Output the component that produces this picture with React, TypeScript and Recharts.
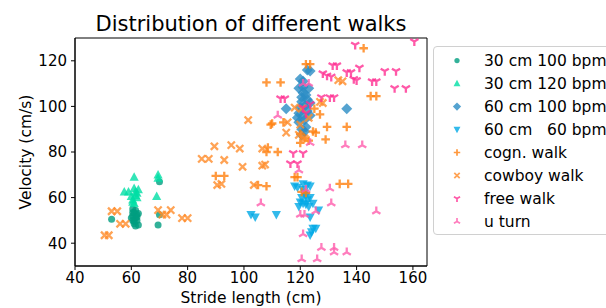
import { ScatterChart, Scatter, XAxis, YAxis, ReferenceArea, Label } from 'recharts';

const FONT = '"DejaVu Sans", sans-serif';

// stride length (cm), velocity (cm/s)
const cm30bpm100 = [
  [53, 50.5], [60.5, 55], [61, 53.5], [60.5, 52], [61.5, 51], [62, 50], [61, 49.5], [62.5, 48],
  [61.5, 47.5], [62, 52.5], [60, 51], [62.5, 53], [61.5, 54.5], [60.5, 50], [61, 48.5], [62, 51.5],
  [60.5, 53.5], [70, 67], [69.5, 48], [70, 52.5],
];
const cm30bpm120 = [
  [61, 69], [57.5, 62.5], [59, 62.5], [61, 64], [61.5, 61], [60.5, 59], [62, 62], [61, 57.5],
  [62.5, 63.5], [60, 60.5], [61.5, 62.5], [60.5, 58], [62, 60], [69.5, 70], [69.5, 68.5], [69, 60.5],
];
const cm60bpm100 = [
  [122.5, 116], [123.5, 115.5], [120, 112], [121, 111], [119.5, 108], [121, 108.5], [123, 108],
  [120.5, 104], [122.5, 103], [120.5, 102], [123.5, 101.5], [121.5, 100], [115, 99], [119.5, 97],
  [122.5, 98], [123.5, 96], [119, 95], [121.5, 94], [119.5, 93], [122, 91], [120.5, 87.5],
  [121, 106], [122, 105], [120, 99.5], [121, 96], [120.5, 90], [121.5, 89], [136.5, 99],
];
const cm60bpm60 = [
  [102.5, 52.5], [104, 51.5], [111.5, 52.5], [118, 65], [119, 64.5], [121, 66], [122.5, 65.5],
  [123.5, 65], [120.5, 60], [121.5, 62], [122.5, 59], [120, 58], [122, 57], [124.5, 57.5],
  [119.5, 56], [123, 56], [121, 63.5], [122, 61], [123.5, 60], [121, 57.5], [126.5, 54.5],
  [123.5, 51.5], [124.5, 46.5], [125.5, 46.5], [123.5, 43.5], [124, 45],
];
const cognWalk = [
  [142.5, 125.5], [122, 118.5], [123.5, 118.5], [108, 110.5], [113, 110.5], [145, 104.5], [147, 104.5],
  [127, 96.5], [125, 99], [110, 92.5], [109.5, 92], [114, 93], [129.5, 91], [136.5, 91], [124.5, 89],
  [125.5, 88.5], [120, 88], [121.5, 86], [129, 85.5], [120, 84], [123, 85], [112, 80], [108, 80],
  [108.5, 82], [90, 69.5], [93, 69.5], [118, 69], [119, 69], [108, 65], [105, 65.5], [134, 66],
  [137, 66], [120.5, 62.5], [122, 62],
];
const cowboyWalk = [
  [50.5, 43.5], [52, 43.5], [53, 54], [55, 54], [56, 48.5], [58, 48.5], [69.5, 54.5], [71, 52.5],
  [72.5, 52.5], [74, 54.5], [78, 51], [80, 51], [85, 77], [87.5, 77], [89.5, 82.5], [93, 76.5],
  [95.5, 83], [98.5, 81.5], [99.5, 73.5], [101.5, 94], [90.5, 65.5], [92, 66], [103.5, 65.5],
  [106.5, 81.5], [106.5, 74], [107.5, 74.5], [115, 88.5], [115.5, 93], [118, 99.5], [120, 92],
  [119.5, 87.5], [121.5, 86], [127, 102], [128, 101.5], [133.5, 111.5], [135, 111], [120.5, 99], [123, 95],
];
const freeWalk = [
  [139.5, 127], [160.5, 128.5], [131.5, 118], [133, 118], [141, 117], [128, 114.5], [129.5, 113.5],
  [131, 113], [136.5, 115], [138, 115], [139, 112], [140, 111.5], [150, 115.5], [154, 115.5],
  [145.5, 111], [147, 111], [153.5, 108], [157.5, 108], [113, 103.5], [114.5, 103.5], [127.5, 104],
  [130.5, 104], [132, 104], [122, 97], [121, 99.5], [123.5, 101], [117.5, 79.5], [121, 79.5],
  [116.5, 75], [119, 75],
];
const uTurn = [
  [121, 110], [123, 110], [112, 96], [123.5, 84], [136, 83], [142, 83], [119.5, 72], [122, 63.5],
  [130.5, 64], [131, 57.5], [106, 57.5], [147, 54], [125.5, 54], [120, 52.5], [121.5, 52.5],
  [121, 44], [127.5, 38], [132, 38], [132, 36], [136.5, 36], [120.5, 33], [126, 33],
];

const xTicks = [40, 60, 80, 100, 120, 140, 160];
const yTicks = [40, 60, 80, 100, 120];

const series = [
  { name: '30 cm 100 bpm', points: cm30bpm100, color: '#009e80', kind: 'circle' },
  { name: '30 cm 120 bpm', points: cm30bpm120, color: '#00dfa5', kind: 'triangle' },
  { name: '60 cm 100 bpm', points: cm60bpm100, color: '#2b8cc4', kind: 'diamond' },
  { name: '60 cm   60 bpm', points: cm60bpm60, color: '#00a9e6', kind: 'triangleDown' },
  { name: 'cogn. walk', points: cognWalk, color: '#ff7f0e', kind: 'plus' },
  { name: 'cowboy walk', points: cowboyWalk, color: '#ff8c2a', kind: 'x' },
  { name: 'free walk', points: freeWalk, color: '#ff2f92', kind: 'triDown' },
  { name: 'u turn', points: uTurn, color: '#ff5cad', kind: 'triUp' },
];

function Marker({ cx, cy, kind, color, s = 1 }: any) {
  if (cx == null || cy == null) return null;
  const line = { stroke: color, strokeWidth: 2.3 * s, fill: 'none' };
  let body;
  switch (kind) {
    case 'circle':
      body = <circle cx={cx} cy={cy} r={3.5 * s} fill={color} />;
      break;
    case 'triangle':
      body = <polygon points={`${cx},${cy - 4.9 * s} ${cx - 4.6 * s},${cy + 3.6 * s} ${cx + 4.6 * s},${cy + 3.6 * s}`} fill={color} />;
      break;
    case 'triangleDown':
      body = <polygon points={`${cx},${cy + 4.9 * s} ${cx - 4.6 * s},${cy - 3.6 * s} ${cx + 4.6 * s},${cy - 3.6 * s}`} fill={color} />;
      break;
    case 'diamond':
      body = <polygon points={`${cx},${cy - 5.5 * s} ${cx + 5.5 * s},${cy} ${cx},${cy + 5.5 * s} ${cx - 5.5 * s},${cy}`} fill={color} />;
      break;
    case 'plus':
      body = <path d={`M${cx - 4.3 * s},${cy}H${cx + 4.3 * s}M${cx},${cy - 4.3 * s}V${cy + 4.3 * s}`} {...line} />;
      break;
    case 'x':
      body = <path d={`M${cx - 3.6 * s},${cy - 3.6 * s}L${cx + 3.6 * s},${cy + 3.6 * s}M${cx - 3.6 * s},${cy + 3.6 * s}L${cx + 3.6 * s},${cy - 3.6 * s}`} {...line} />;
      break;
    case 'triDown':
      body = <path d={`M${cx},${cy}V${cy + 4.7 * s}M${cx},${cy}L${cx - 4.1 * s},${cy - 2.4 * s}M${cx},${cy}L${cx + 4.1 * s},${cy - 2.4 * s}`} {...line} />;
      break;
    default:
      body = <path d={`M${cx},${cy}V${cy - 4.7 * s}M${cx},${cy}L${cx - 4.1 * s},${cy + 2.4 * s}M${cx},${cy}L${cx + 4.1 * s},${cy + 2.4 * s}`} {...line} />;
  }
  return <g opacity={0.8}>{body}</g>;
}

export default function App() {
  return (
    <div style={{ position: 'absolute', left: 0, top: 0, width: 606, height: 308, overflow: 'hidden', background: '#fff', fontFamily: FONT }}>
      <div style={{ position: 'absolute', left: 0, width: 502, top: 11, textAlign: 'center', fontSize: 21, color: '#000', lineHeight: '26px' }}>
        Distribution of different walks
      </div>
      <ScatterChart width={606} height={308} margin={{ top: 38, right: 179, bottom: 0, left: 0 }}>
        <XAxis
          type="number"
          dataKey="x"
          domain={[40, 165]}
          ticks={xTicks}
          allowDataOverflow
          height={42}
          tickSize={4}
          tickMargin={2}
          stroke="#000"
          tick={{ fill: '#000', fontSize: 15, fontFamily: FONT }}
        >
          <Label value="Stride length (cm)" position="center" dy={10} style={{ fill: '#000', fontSize: 15.5, fontFamily: FONT }} />
        </XAxis>
        <YAxis
          type="number"
          dataKey="y"
          domain={[30, 130]}
          ticks={yTicks}
          allowDataOverflow
          width={75}
          tickSize={4}
          tickMargin={4}
          stroke="#000"
          tick={{ fill: '#000', fontSize: 15, fontFamily: FONT }}
        >
          <Label value="Velocity (cm/s)" angle={-90} position="center" dx={-12} style={{ fill: '#000', fontSize: 15.5, fontFamily: FONT, textAnchor: 'middle' }} />
        </YAxis>
        <ReferenceArea x1={40} x2={165} y1={30} y2={130} fill="none" stroke="#000" strokeWidth={1} ifOverflow="visible" />
        {series.map((s) => (
          <Scatter
            key={s.name}
            name={s.name}
            data={s.points.map(([x, y]) => ({ x, y }))}
            isAnimationActive={false}
            shape={(props: any) => <Marker cx={props.cx} cy={props.cy} kind={s.kind} color={s.color} />}
          />
        ))}
      </ScatterChart>
      <div style={{ position: 'absolute', left: 433, top: 46, width: 220, height: 189, border: '1px solid #d0d0d0', borderRadius: 4, boxSizing: 'border-box' }}>
        {series.map((s, i) => (
          <div key={s.name} style={{ position: 'absolute', left: 0, top: 2 + i * 23.0, height: 23, display: 'flex', alignItems: 'center' }}>
            <svg width={46} height={23} style={{ flex: 'none' }}>
              <Marker cx={23} cy={11.5} kind={s.kind} color={s.color} s={0.75} />
            </svg>
            <span style={{ fontSize: 15.5, color: '#000', whiteSpace: 'pre', marginLeft: 4 }}>{s.name}</span>
          </div>
        ))}
      </div>
    </div>
  );
}
